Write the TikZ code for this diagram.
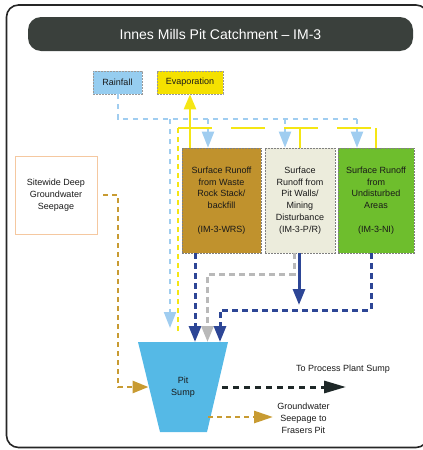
\documentclass[tikz,border=0pt]{standalone}
\usepackage{fontspec}
\setmainfont{Liberation Sans}
\usetikzlibrary{arrows.meta}
\definecolor{titlebar}{RGB}{58,64,60}
\definecolor{rainfill}{RGB}{150,205,240}
\definecolor{evapfill}{RGB}{245,225,0}
\definecolor{brownfill}{RGB}{192,146,45}
\definecolor{beigefill}{RGB}{236,236,220}
\definecolor{greenfill}{RGB}{110,190,45}
\definecolor{sumpfill}{RGB}{85,185,230}
\definecolor{dkblue}{RGB}{45,70,150}
\definecolor{ltblue}{RGB}{160,205,240}
\definecolor{goldline}{RGB}{200,155,50}
\definecolor{grayline}{RGB}{185,185,185}
\definecolor{yelline}{RGB}{245,230,20}
\definecolor{blkline}{RGB}{30,40,40}
\definecolor{seepborder}{RGB}{245,200,160}
\begin{document}
\begin{tikzpicture}[x=1pt,y=-1pt,
  txt/.style={font=\fontsize{9}{11.8}\selectfont, align=center, text=black!90},
  srcbox/.style={txt, draw=black!40, dash pattern=on 2pt off 1pt, line width=0.6pt, inner sep=0pt},
  runbox/.style={txt, draw=black!50, dash pattern=on 2pt off 1pt, line width=0.6pt, inner sep=0pt, minimum height=105},
  tipbig/.style={-{Triangle[width=12pt,length=16pt]}},
  rainline/.style={ltblue, line width=2pt, dash pattern=on 5pt off 5pt},
  yelsolid/.style={yelline, line width=2.5pt},
  yeldash/.style={yelline, line width=2.5pt, dash pattern=on 5pt off 4pt},
  yellong/.style={yelline, line width=2.5pt, dash pattern=on 34pt off 19pt},
  blueline/.style={dkblue, line width=3pt, dash pattern=on 6pt off 4pt},
  grayl/.style={grayline, line width=3pt, dash pattern=on 6pt off 4pt},
  goldl/.style={goldline, line width=2.8pt, dash pattern=on 5pt off 4pt},
  blkl/.style={blkline, line width=3pt, dash pattern=on 6pt off 5pt}]
\useasboundingbox (0,0) rectangle (423,450);
% frame
\draw[black!85, line width=1.6pt, rounded corners=12pt] (6.5,5) rectangle (428,447.5);
% title
\node[fill=titlebar, rounded corners=13pt, minimum width=385, minimum height=34, inner sep=0pt,
      text=white, font=\fontsize{14}{16}\selectfont] (title) at (220.5,34) {Innes Mills Pit Catchment -- IM-3};
% sources
\node[srcbox, fill=rainfill, minimum width=49, minimum height=23] (rain) at (117.5,82.5) {Rainfall};
\node[srcbox, fill=evapfill, minimum width=66, minimum height=23] (evap) at (190,82.5) {Evaporation};
% runoff boxes
\node[runbox, fill=brownfill, minimum width=79] (wrs) at (221.5,200.5)
  {Surface Runoff\\from Waste\\Rock Stack/\\backfill\\[11.8pt](IM-3-WRS)};
\node[runbox, fill=beigefill, minimum width=70] (pr) at (300,200.5)
  {Surface\\Runoff from\\Pit Walls/\\Mining\\Disturbance\\(IM-3-P/R)};
\node[runbox, fill=greenfill, minimum width=76] (ni) at (376,200.5)
  {Surface Runoff\\from\\Undisturbed\\Areas\\[11.8pt](IM-3-NI)};
% sitewide seepage
\node[txt, draw=seepborder, line width=0.9pt, minimum width=82, minimum height=78, inner sep=0pt] (seep) at (56,195)
  {Sitewide Deep\\Groundwater\\Seepage};
% pit sump
\coordinate (sTL) at (138,342);
\coordinate (sTR) at (228,342);
\coordinate (sBR) at (207,432);
\coordinate (sBL) at (160,432);
\fill[sumpfill] (sTL) -- (sTR) -- (sBR) -- (sBL) -- cycle;
\node[txt] (sump) at (183,387) {Pit\\Sump};
% outflow labels
\node[txt] (proc) at (343,369) {To Process Plant Sump};
\node[txt, inner sep=1pt] (gw) at (303.5,418) {Groundwater\\Seepage to\\Frasers Pit};
% coordinates
\coordinate (rc) at (117.5,119);
\coordinate (r0) at (170,119);
\coordinate (r1) at (208,119);
\coordinate (r2) at (285,119);
\coordinate (r3) at (357,119);
\coordinate (rsump) at (170,328);
\coordinate (y0) at (178,128);
\coordinate (ysump) at (178,331);
\coordinate (y2) at (300,128);
\coordinate (y3) at (376,128);
\coordinate (in1) at (195,342);
\coordinate (in2) at (207.5,342);
\coordinate (in3) at (220,342);
\coordinate (g1) at (294,274);
\coordinate (b1) at (371,310);
\coordinate (sb) at (299,253);
\coordinate (sbend) at (299,305);
\coordinate (pout) at (222,387);
\coordinate (pend) at (346,387);
\coordinate (gout) at (208,417);
\coordinate (gend) at (273,417);
\coordinate (sp1) at (103,195);
\coordinate (sp2) at (118,195);
\coordinate (sp3) at (118,387);
\coordinate (sleft) at (148.5,387);
% rainfall network
\draw[rainline] (rain.south) -- (rc) -- (r3);
\draw[rainline, tipbig] (r1) -- (r1 |- wrs.north);
\draw[rainline, tipbig] (r2) -- (r2 |- pr.north);
\draw[rainline, tipbig] (r3) -- (r3 |- ni.north);
\draw[rainline, tipbig] (r0) -- (rsump);
% evaporation network
\draw[yelsolid, -{Triangle[width=12pt,length=15pt]}] (wrs.north -| evap.south) -- (evap.south);
\draw[yellong] (y0) -- (y3);
\draw[yelsolid] (y2) -- (y2 |- pr.north);
\draw[yelsolid] (y3) -- (y3 |- ni.north);
\draw[yeldash] (ysump) -- (y0);
% flows to sump
\draw[blueline, tipbig] (wrs.south -| in1) -- (in1);
\draw[grayl, tipbig] (pr.south -| g1) -- (g1) -- (g1 -| in2) -- (in2);
\draw[dkblue, line width=3pt, tipbig] (pr.south -| sb) -- (sbend);
\draw[blueline, tipbig] (ni.south -| b1) -- (b1) -- (b1 -| in3) -- (in3);
\draw[goldl, -{Triangle[width=12pt,length=16pt]}] (sp1) -- (sp2) -- (sp3) -- (sleft);
% outflows
\draw[blkl, -{Triangle[width=12pt,length=22pt]}] (pout) -- (pend);
\draw[goldl, -{Triangle[width=12pt,length=19pt]}] (gout) -- (gend);
\end{tikzpicture}
\end{document}
